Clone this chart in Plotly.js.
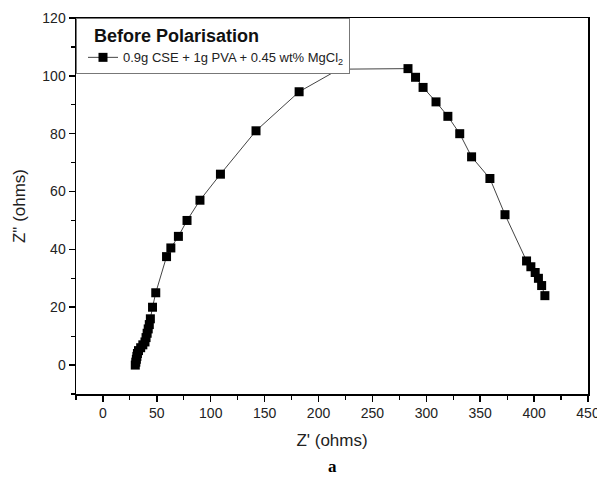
<!DOCTYPE html>
<html>
<head>
<meta charset="utf-8">
<script src="https://cdn.plot.ly/plotly-3.0.1.min.js"></script>
<style>html,body{margin:0;padding:0;background:#fff;}#chart{width:597px;height:478px;}</style>
</head>
<body>
<div id="chart"></div>
<script>
const zReal = [30, 30.5, 31, 31.5, 32, 33, 35, 37, 39, 40, 41, 42, 43, 44, 46, 49,
  59, 63, 70, 78, 90, 109, 142, 182, 219, 283, 290, 297, 309, 320, 331, 342, 359, 373,
  393, 397, 401, 404, 407, 410];
const zImag = [0, 1, 2, 3, 4, 5, 6, 7, 8, 9.5, 11, 12.5, 14, 16, 20, 25,
  37.5, 40.5, 44.5, 50, 57, 66, 81, 94.5, 102.3, 102.5, 99.5, 96, 91, 86, 80, 72, 64.5, 52,
  36, 34, 32, 30, 27.5, 24];
const seriesName = '0.9g CSE + 1g PVA + 0.45 wt% MgCl<sub>2</sub>';
const legendTitle = '&nbsp;&nbsp;&nbsp;<b>Before Polarisation</b>';
const xTitle = "Z' (ohms)";
const yTitle = 'Z" (ohms)';
const panelLabel = '<b>a</b>';
const xTicks = [0, 50, 100, 150, 200, 250, 300, 350, 400, 450];
const xMinor = [-25, 25, 75, 125, 175, 225, 275, 325, 375, 425];
const yTicks = [0, 20, 40, 60, 80, 100, 120];
const yMinor = [-10, 10, 30, 50, 70, 90, 110];

const FONT = 'Liberation Sans, Arial, sans-serif';
const trace = {
  x: zReal, y: zImag, type: 'scatter', mode: 'lines+markers', name: seriesName,
  line: {color: '#444', width: 1},
  marker: {symbol: 'square', size: 9, color: '#000', line: {width: 0}}
};
const axisCommon = {
  showline: true, linecolor: '#000', linewidth: 1.5, mirror: true,
  ticks: 'outside', ticklen: 6, tickwidth: 1.5, tickcolor: '#000',
  showgrid: false, zeroline: false, ticklabeloverflow: 'allow',
  tickfont: {family: FONT, size: 14, color: '#222'}
};
const layout = {
  width: 597, height: 478,
  margin: {l: 76, r: 9, t: 18, b: 84},
  paper_bgcolor: '#fff', plot_bgcolor: '#fff',
  showlegend: true,
  legend: {
    x: 0, y: 1, xanchor: 'left', yanchor: 'top', indentation: 6,
    bordercolor: '#777', borderwidth: 1, bgcolor: '#fff',
    font: {family: FONT, size: 13, color: '#222'},
    title: {text: legendTitle, side: 'top', font: {family: FONT, size: 18, color: '#111'}}
  },
  xaxis: Object.assign({}, axisCommon, {
    range: [-25, 450], tickvals: xTicks,
    minor: {tickvals: xMinor, ticks: 'outside', ticklen: 4, tickwidth: 1.2, tickcolor: '#000'},
    title: {text: xTitle, standoff: 14, font: {family: FONT, size: 17, color: '#222'}}
  }),
  yaxis: Object.assign({}, axisCommon, {
    range: [-10, 120], tickvals: yTicks,
    minor: {tickvals: yMinor, ticks: 'outside', ticklen: 4, tickwidth: 1.2, tickcolor: '#000'},
    title: {text: yTitle, standoff: 12, font: {family: FONT, size: 17, color: '#222'}}
  }),
  annotations: [{
    text: panelLabel, xref: 'paper', yref: 'paper', x: 0.5, y: 0, yshift: -72,
    xanchor: 'center', yanchor: 'middle', showarrow: false,
    font: {family: 'Liberation Serif, Times New Roman, serif', size: 17, color: '#000'}
  }]
};
Plotly.newPlot('chart', [trace], layout, {displayModeBar: false, staticPlot: true});
</script>
</body>
</html>
